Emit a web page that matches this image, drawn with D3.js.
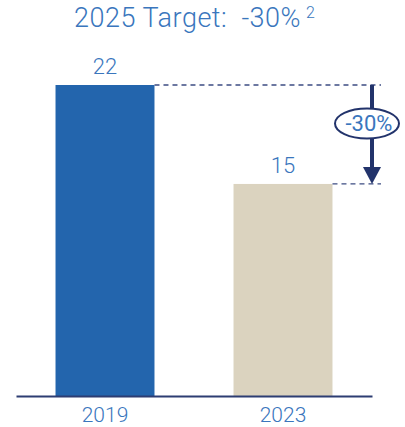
<!DOCTYPE html>
<html>
<head>
<meta charset="utf-8">
<script src="https://cdn.jsdelivr.net/npm/d3@7"></script>
<style>
  html, body { margin: 0; padding: 0; background: #fff; }
  svg { display: block; font-family: Roboto, "Liberation Sans", Arial, sans-serif; font-weight: 300; }
  svg text { white-space: pre; }
</style>
</head>
<body>
<svg id="chart" width="405" height="427"></svg>
<script>
// Emissions index by year
const years = ["2019", "2023"];
const values = [22, 15];
const barColors = ["#2365ad", "#dbd3bf"];
const titleText = "2025 Target:  -30%";
const titleNote = "2";
const changeLabel = "-30%";

const svg = d3.select("#chart");
const textBlue = "#3a76bd";
const navy = "#22336b";
const font = "Roboto, 'Liberation Sans', Arial, sans-serif";

const baseY = 396;
const x = d3.scaleBand().domain(years).range([16, 372])
  .paddingInner(0.444).paddingOuter(0.222);
const y = d3.scaleLinear().domain([0, d3.max(values)]).range([baseY, 85]);

// Title with footnote marker
const title = svg.append("text")
  .attr("x", 74).attr("y", 27)
  .attr("fill", textBlue)
  .attr("font-size", 27)
  .attr("letter-spacing", 0.5)
  .text(titleText);
title.append("tspan")
  .attr("dx", 5).attr("dy", -9)
  .attr("font-size", 16)
  .text(titleNote);

// Bars
svg.selectAll("rect.bar").data(years).join("rect")
  .attr("class", "bar")
  .attr("x", d => x(d))
  .attr("width", x.bandwidth())
  .attr("y", (d, i) => y(values[i]))
  .attr("height", (d, i) => baseY - y(values[i]))
  .attr("fill", (d, i) => barColors[i]);

// Value labels
svg.selectAll("text.val").data(years).join("text")
  .attr("class", "val")
  .attr("x", d => x(d) + x.bandwidth() / 2)
  .attr("y", (d, i) => y(values[i]) - 11)
  .attr("text-anchor", "middle")
  .attr("fill", textBlue)
  .attr("font-size", 22)
  .text((d, i) => values[i]);

// Baseline axis
const axis = svg.append("g")
  .attr("transform", `translate(0,${baseY})`)
  .call(d3.axisBottom(x).tickSize(0).tickPadding(11));
axis.select(".domain").attr("stroke", "#2d3d72").attr("stroke-width", 2);
axis.selectAll(".tick text")
  .attr("fill", textBlue)
  .attr("font-size", 21)
  .attr("font-weight", 300)
  .attr("font-family", font);

// Dashed reference lines from each bar top
const arrowX = 372;
const dashEnd = 381;
svg.selectAll("line.ref").data(years).join("line")
  .attr("class", "ref")
  .attr("x1", d => x(d) + x.bandwidth())
  .attr("x2", dashEnd)
  .attr("y1", (d, i) => y(values[i]))
  .attr("y2", (d, i) => y(values[i]))
  .attr("stroke", "#3d4c82")
  .attr("stroke-width", 1.3)
  .attr("stroke-dasharray", "5,4");

// Reduction arrow
const yTop = y(values[0]);
const yBot = y(values[1]);
svg.append("line")
  .attr("x1", arrowX).attr("x2", arrowX)
  .attr("y1", yTop).attr("y2", yBot - 15)
  .attr("stroke", navy).attr("stroke-width", 4);
svg.append("path")
  .attr("d", `M${arrowX - 9},${yBot - 17} L${arrowX + 9},${yBot - 17} L${arrowX},${yBot} Z`)
  .attr("fill", navy);

// Change badge
const cy = (yTop + yBot) / 2 - 11;
svg.append("ellipse")
  .attr("cx", 367).attr("cy", cy)
  .attr("rx", 32).attr("ry", 15)
  .attr("fill", "#fff")
  .attr("stroke", navy).attr("stroke-width", 2);
svg.append("text")
  .attr("x", 369).attr("y", cy + 8)
  .attr("text-anchor", "middle")
  .attr("fill", textBlue)
  .attr("font-size", 22)
  .attr("font-weight", 400)
  .text(changeLabel);
</script>
</body>
</html>
